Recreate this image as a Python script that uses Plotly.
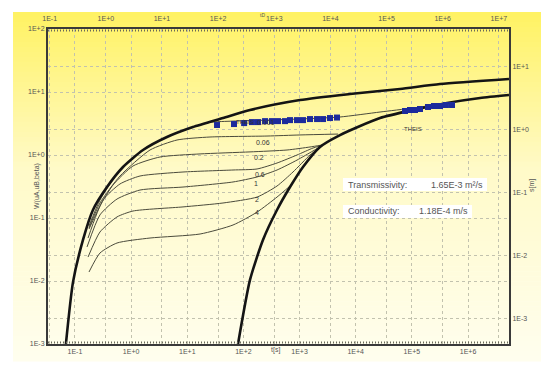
import plotly.graph_objects as go

# ---------------- data ----------------
# Theis curve for uA (early-time, left thick curve)
theisA_t = [0.069, 0.0923, 0.139, 0.209, 0.372, 0.718, 1.63, 4.35, 12.6, 43.4, 131, 1019, 7907, 61500, 317000, 5.37e6]
theisA_W = [0.001, 0.0096, 0.0448, 0.134, 0.31, 0.645, 1.2, 1.93, 2.78, 3.86, 5.18, 7.46, 9.29, 11.17, 13.4, 16.07]

# Theis curve for uB (late-time, right thick curve)
theisB_t = [80.2, 131, 223, 396, 676, 1151, 2312, 5250, 27100, 104700, 422700, 1.64e6, 5.37e6]
theisB_W = [0.001, 0.0104, 0.0448, 0.134, 0.310, 0.645, 1.34, 2.07, 3.86, 5.18, 6.68, 8.03, 8.96]

# Neuman type curves, one per beta
beta_labels = ["0.001", "0.06", "0.2", "0.6", "1", "2", "4"]
beta_t = [
    [0.178, 0.279, 0.634, 1.63, 4.36, 12.7, 25.4, 65.3, 198, 1019, 5253, 27080, 104800, 422600],
    [0.178, 0.279, 0.634, 2.17, 6.57, 25.4, 263, 1019, 4840],
    [0.178, 0.279, 0.476, 1.08, 3.27, 16.9, 131, 598, 1535, 2511],
    [0.171, 0.316, 0.634, 1.44, 8.4, 65.3, 175, 397, 901, 1736, 2312],
    [0.164, 0.279, 0.561, 1.44, 8.4, 65.3, 175, 397, 901, 1736, 2312],
    [0.171, 0.279, 0.561, 1.08, 8.4, 43.3, 175, 397, 764, 1535, 2131],
    [0.178, 0.279, 0.561, 2.17, 16.9, 65.3, 175, 397, 676],
]
beta_W = [
    [0.0746, 0.193, 0.578, 1.20, 1.93, 2.78, 3.30, 3.45, 3.55, 3.73, 4.01, 4.81, 5.57, 6.69],
    [0.0694, 0.173, 0.464, 1.20, 1.73, 1.93, 2.0, 2.08, 2.15],
    [0.0669, 0.155, 0.334, 0.669, 0.93, 1.04, 1.12, 1.20, 1.34, 1.44],
    [0.0481, 0.193, 0.347, 0.464, 0.537, 0.578, 0.60, 0.746, 1.0, 1.29, 1.39],
    [0.0347, 0.112, 0.20, 0.278, 0.31, 0.373, 0.448, 0.578, 0.83, 1.16, 1.34],
    [0.024, 0.060, 0.104, 0.129, 0.150, 0.173, 0.215, 0.322, 0.537, 1.0, 1.245],
    [0.0139, 0.0278, 0.0401, 0.0481, 0.0557, 0.0774, 0.124, 0.215, 0.322],
]

# measured data (blue squares)
obs_t = [33.9, 68, 103, 142, 182, 243, 323, 413, 551, 676, 901, 1151, 1535, 2048, 2620, 3485, 4645,
         75500, 92700, 113800, 139700, 194000, 248000, 317000, 405000, 519000]
obs_W = [2.99, 3.10, 3.21, 3.33, 3.33, 3.45, 3.45, 3.45, 3.45, 3.58, 3.58, 3.58, 3.72, 3.72, 3.72, 3.86, 3.93,
         4.99, 5.18, 5.18, 5.37, 5.78, 6.0, 6.0, 6.22, 6.22]

# axis ticks
bottom_ticks = [1e-1, 1e0, 1e1, 1e2, 1e3, 1e4, 1e5, 1e6]
bottom_text = ["1E-1", "1E+0", "1E+1", "1E+2", "1E+3", "1E+4", "1E+5", "1E+6"]
top_ticks = [1e-1, 1e0, 1e1, 1e2, 1e3, 1e4, 1e5, 1e6, 1e7]
top_text = ["1E-1", "1E+0", "1E+1", "1E+2", "1E+3", "1E+4", "1E+5", "1E+6", "1E+7"]
left_ticks = [1e-3, 1e-2, 1e-1, 1e0, 1e1, 1e2]
left_text = ["1E-3", "1E-2", "1E-1", "1E+0", "1E+1", "1E+2"]
right_ticks = [1e-3, 1e-2, 1e-1, 1e0, 1e1]
right_text = ["1E-3", "1E-2", "1E-1", "1E+0", "1E+1"]

result_labels = ["Transmissivity:", "Conductivity:"]
result_values = ["1.65E-3 m\u00b2/s", "1.18E-4 m/s"]

# ---------------- layout helpers ----------------
# page body has an 8px margin, so the figure starts at (8, 8) in the window
OFF = 8
W_FIG, H_FIG = 549 - OFF, 367 - OFF
L, R, T, B = 48, 509, 29, 344          # plot frame in window pixels


def px(x):
    return (x - L) / (R - L)


def py(y):
    return (B - y) / (B - T)


FONT = "Liberation Sans, Arial, sans-serif"
GRID = "#c2c2ae"
TXT = "#555555"

fig = go.Figure()

# background gradient panel (yellow -> cream)
shapes = []
top_c = (255, 242, 100)
mid_c = (255, 250, 200)
bot_c = (255, 254, 238)
y0, y1 = 12, 361
N = 70
for i in range(N):
    f = i / (N - 1)
    if f < 0.45:
        g = f / 0.45
        c = [top_c[k] + (mid_c[k] - top_c[k]) * g for k in range(3)]
    else:
        g = (f - 0.45) / 0.55
        c = [mid_c[k] + (bot_c[k] - mid_c[k]) * g for k in range(3)]
    ya = y0 + (y1 - y0) * i / N
    yb = y0 + (y1 - y0) * (i + 1) / N + 0.6
    shapes.append(dict(type="rect", xref="paper", yref="paper", layer="below",
                       x0=px(13), x1=px(541), y0=py(ya), y1=py(yb),
                       fillcolor="rgb(%d,%d,%d)" % tuple(int(round(v)) for v in c),
                       line=dict(width=0)))

# hatched look of top and bottom frame edges
for yy in (T + 1.5, B - 1.5):
    shapes.append(dict(type="line", xref="paper", yref="paper", layer="above",
                       x0=0, x1=1, y0=py(yy), y1=py(yy),
                       line=dict(color="#6a6a5a", width=2, dash="1px,2px")))

# result boxes
box_px = [(343, 178, 487, 191), (343, 205, 472, 218)]
for (bx0, by0, bx1, by1) in box_px:
    shapes.append(dict(type="rect", xref="paper", yref="paper", layer="above",
                       x0=px(bx0), x1=px(bx1), y0=py(by1), y1=py(by0),
                       fillcolor="white", line=dict(width=0)))

# thin type curves
for lab, tt, ww in zip(beta_labels, beta_t, beta_W):
    fig.add_trace(go.Scatter(x=tt, y=ww, mode="lines", name=lab,
                             line=dict(color="#4b4b3c", width=1, shape="spline", smoothing=0.6),
                             hoverinfo="skip", showlegend=False))

# thick Theis curves
for tt, ww in ((theisA_t, theisA_W), (theisB_t, theisB_W)):
    fig.add_trace(go.Scatter(x=tt, y=ww, mode="lines",
                             line=dict(color="#141414", width=2.6, shape="spline", smoothing=0.6),
                             hoverinfo="skip", showlegend=False))

# observations
fig.add_trace(go.Scatter(x=obs_t, y=obs_W, mode="markers",
                         marker=dict(symbol="square", size=6, color="#1c2a9c",
                                     line=dict(width=0)),
                         showlegend=False))

# invisible trace to activate top/right axes
fig.add_trace(go.Scatter(x=[1], y=[1], xaxis="x2", yaxis="y2", mode="markers",
                         marker=dict(opacity=0), hoverinfo="skip", showlegend=False))

annotations = []
# beta labels
beta_lab_px = [(266, 117), (263, 142), (259, 157), (260, 174), (256, 183), (257, 199), (257, 213)]
for lab, (lx, ly) in zip(beta_labels, beta_lab_px):
    annotations.append(dict(x=px(lx), y=py(ly), xref="paper", yref="paper", text=lab,
                            showarrow=False, font=dict(size=7, color="#333333", family=FONT)))
# THEIS labels
for (lx, ly) in [(245, 117), (424, 124)]:
    annotations.append(dict(x=px(lx), y=py(ly), xref="paper", yref="paper", text="THEIS",
                            showarrow=False, font=dict(size=6, color="#333333", family=FONT)))
# result texts
for i, (lab, val) in enumerate(zip(result_labels, result_values)):
    bx0, by0, bx1, by1 = box_px[i]
    ym = py((by0 + by1) / 2)
    annotations.append(dict(x=px(bx0 + 3), y=ym, xref="paper", yref="paper", text=lab,
                            xanchor="left", showarrow=False,
                            font=dict(size=9, color=TXT, family=FONT)))
    annotations.append(dict(x=px(bx1 - 2), y=ym, xref="paper", yref="paper", text=val,
                            xanchor="right", showarrow=False,
                            font=dict(size=9, color=TXT, family=FONT)))
# axis titles
title_font = dict(size=7, color=TXT, family=FONT)
annotations.append(dict(x=px(262), y=py(10), xref="paper", yref="paper", text="tD",
                        showarrow=False, font=dict(size=5, color=TXT, family=FONT)))
annotations.append(dict(x=px(275), y=py(356), xref="paper", yref="paper", text="t[s]",
                        showarrow=False, font=title_font))
annotations.append(dict(x=px(31), y=py(186), xref="paper", yref="paper", text="W(uA,uB,beta)",
                        textangle=-90, showarrow=False, font=title_font))
annotations.append(dict(x=px(538), y=py(186), xref="paper", yref="paper", text="s[m]",
                        textangle=-90, showarrow=False, font=title_font))

axis_common = dict(type="log", showgrid=True, gridcolor=GRID, griddash="dot", gridwidth=1,
                   showline=True, linecolor="#3a3a3a", linewidth=2, zeroline=False,
                   ticks="", tickfont=dict(size=7, color=TXT, family=FONT),
                   tickmode="array", automargin=False)

fig.update_layout(
    width=W_FIG, height=H_FIG,
    margin=dict(l=L - OFF, r=W_FIG - (R - OFF), t=T - OFF, b=H_FIG - (B - OFF), autoexpand=False),
    paper_bgcolor="white", plot_bgcolor="rgba(0,0,0,0)",
    shapes=shapes, annotations=annotations,
    xaxis=dict(axis_common, range=[-1.48, 6.73], tickvals=bottom_ticks, ticktext=bottom_text),
    xaxis2=dict(axis_common, range=[-1.03, 7.18], tickvals=top_ticks, ticktext=top_text,
                overlaying="x", side="top", anchor="y", ticklabelstandoff=3),
    yaxis=dict(axis_common, range=[-3, 2], tickvals=left_ticks, ticktext=left_text),
    yaxis2=dict(axis_common, range=[-3.40, 1.60], tickvals=right_ticks, ticktext=right_text,
                overlaying="y", side="right", anchor="x"),
    font=dict(family=FONT, size=7, color=TXT),
)

fig.write_html("out.html")
